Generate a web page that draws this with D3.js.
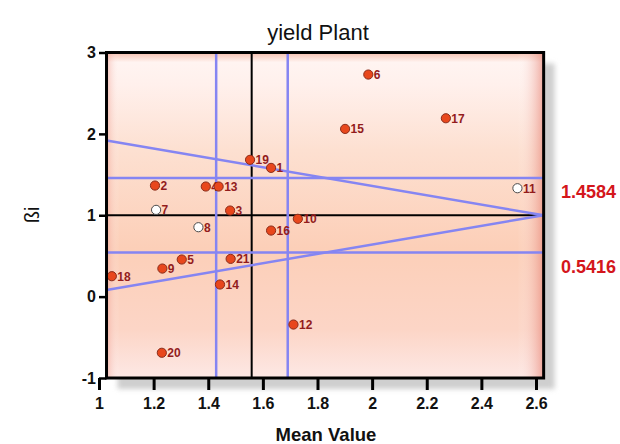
<!DOCTYPE html>
<html>
<head>
<meta charset="utf-8">
<script src="https://cdn.jsdelivr.net/npm/d3@7"></script>
<style>
  body { margin: 0; background: #fff; }
  svg { display: block; font-family: "Liberation Sans", Arial, sans-serif; }
</style>
</head>
<body>
<div id="chart"></div>
<script>
// genotype data
const genotypes = ["1","2","3","4","5","6","7","8","9","10","11","12","13","14","15","16","17","18","19","20","21"];
const meanValues = [1.630, 1.205, 1.480, 1.391, 1.303, 1.986, 1.209, 1.364, 1.232, 1.728, 2.532, 1.712, 1.438, 1.443, 1.901, 1.630, 2.270, 1.047, 1.553, 1.230, 1.482];
const betaValues = [1.582, 1.365, 1.058, 1.353, 0.456, 2.729, 1.066, 0.853, 0.345, 0.956, 1.332, -0.343, 1.353, 0.149, 2.061, 0.812, 2.192, 0.251, 1.681, -0.690, 0.464];
const openPoints = ["7", "8", "11"];

// reference lines
const meanLine = 1.559;
const meanBand = [1.429, 1.691];
const betaBand = [1.4584, 0.5416];
const betaLabels = ["1.4584", "0.5416"];
const slantUpper = [[1.0275, 1.918], [2.628, 1]];
const slantLower = [[1.0275, 0.082], [2.628, 1]];

const xTicks = [1, 1.2, 1.4, 1.6, 1.8, 2, 2.2, 2.4, 2.6];
const yTicks = [-1, 0, 1, 2, 3];
const frameX = [1.0275, 2.628];

const data = genotypes.map((g, i) => ({g, x: meanValues[i], y: betaValues[i], open: openPoints.includes(g)}));

const width = 620, height = 444;

const x = d3.scaleLinear().domain([1, 2.6]).range([99, 536]);
const y = d3.scaleLinear().domain([-1, 3]).range([378, 52.5]);

const svg = d3.select("#chart").append("svg")
  .attr("width", width)
  .attr("height", height);

const defs = svg.append("defs");

// background gradients for the bevelled plot box
const vGrad = defs.append("linearGradient").attr("id", "vgrad")
  .attr("x1", 0).attr("y1", 0).attr("x2", 0).attr("y2", 1);
[["0%", "#f6bfae"], ["3%", "#fff4f1"], ["10%", "#fff0ec"], ["30%", "#fde0d1"], ["60%", "#fccfb8"], ["85%", "#fcd5c6"], ["100%", "#fde8e5"]]
  .forEach(([o, c]) => vGrad.append("stop").attr("offset", o).attr("stop-color", c));

const hGrad = defs.append("linearGradient").attr("id", "hgrad")
  .attr("x1", 0).attr("y1", 0).attr("x2", 1).attr("y2", 0);
[["0%", "#ee9486", 0.5], ["3%", "#ffffff", 0], ["94%", "#ffffff", 0], ["100%", "#e68072", 0.65]]
  .forEach(([o, c, a]) => hGrad.append("stop").attr("offset", o).attr("stop-color", c).attr("stop-opacity", a));

defs.append("filter").attr("id", "blur")
  .append("feGaussianBlur").attr("stdDeviation", 2.5);

defs.append("clipPath").attr("id", "plotclip")
  .append("rect")
  .attr("x", x(frameX[0])).attr("y", y(3))
  .attr("width", x(frameX[1]) - x(frameX[0]))
  .attr("height", y(-1) - y(3));

const fx0 = x(frameX[0]), fx1 = x(frameX[1]), fy0 = y(3), fy1 = y(-1);

// drop shadow
svg.append("rect")
  .attr("x", fx0 + 11).attr("y", fy0 + 11)
  .attr("width", fx1 - fx0).attr("height", fy1 - fy0)
  .attr("fill", "#cfcfcf")
  .attr("filter", "url(#blur)");

svg.append("rect")
  .attr("x", fx0).attr("y", fy0)
  .attr("width", fx1 - fx0).attr("height", fy1 - fy0)
  .attr("fill", "url(#vgrad)");
svg.append("rect")
  .attr("x", fx0).attr("y", fy0)
  .attr("width", fx1 - fx0).attr("height", fy1 - fy0)
  .attr("fill", "url(#hgrad)");

const plot = svg.append("g").attr("clip-path", "url(#plotclip)");

// black reference lines
plot.append("line")
  .attr("x1", fx0).attr("x2", fx1)
  .attr("y1", y(1)).attr("y2", y(1))
  .attr("stroke", "#000").attr("stroke-width", 2);
plot.append("line")
  .attr("x1", x(meanLine)).attr("x2", x(meanLine))
  .attr("y1", fy0).attr("y2", fy1)
  .attr("stroke", "#000").attr("stroke-width", 2);

// blue band lines
const blue = "#8585f2";
plot.selectAll(".vband").data(meanBand).join("line")
  .attr("x1", d => x(d)).attr("x2", d => x(d))
  .attr("y1", fy0).attr("y2", fy1)
  .attr("stroke", blue).attr("stroke-width", 2.5);
plot.selectAll(".hband").data(betaBand).join("line")
  .attr("x1", fx0).attr("x2", fx1 + 2)
  .attr("y1", d => y(d)).attr("y2", d => y(d))
  .attr("stroke", blue).attr("stroke-width", 2.5);
plot.selectAll(".slant").data([slantUpper, slantLower]).join("path")
  .attr("d", d3.line().x(d => x(d[0])).y(d => y(d[1])))
  .attr("fill", "none")
  .attr("stroke", blue).attr("stroke-width", 2.5);

// points + labels, drawn in order so later points cover earlier labels
const pts = svg.append("g");
data.forEach(d => {
  pts.append("circle")
    .attr("cx", x(d.x)).attr("cy", y(d.y)).attr("r", 4.6)
    .attr("fill", d.open ? "#ffffff" : "#e8471c")
    .attr("stroke", d.open ? "#4a4a4a" : "#8a2c1a")
    .attr("stroke-width", 1);
  pts.append("text")
    .attr("x", x(d.x) + 5.5).attr("y", y(d.y) + 4.5)
    .attr("font-size", "12px").attr("font-weight", "bold")
    .attr("fill", "#931c1c")
    .text(d.g);
});

// frame
svg.append("rect")
  .attr("x", fx0).attr("y", fy0)
  .attr("width", fx1 - fx0).attr("height", fy1 - fy0)
  .attr("fill", "none")
  .attr("stroke", "#000").attr("stroke-width", 3);

// axes
svg.append("g")
  .attr("transform", `translate(0,${fy1})`)
  .call(d3.axisBottom(x).tickValues(xTicks).tickSize(12).tickPadding(8).tickFormat(d => String(d)))
  .call(g => g.select(".domain").remove())
  .call(g => g.selectAll("line").attr("stroke-width", 3))
  .call(g => g.selectAll("text").attr("font-size", "16px").attr("font-weight", "bold")
    .attr("font-family", "Liberation Sans, Arial, sans-serif").attr("fill", "#111"));

svg.append("g")
  .attr("transform", `translate(${fx0},0)`)
  .call(d3.axisLeft(y).tickValues(yTicks).tickSize(7.5).tickPadding(3).tickFormat(d => String(d)))
  .call(g => g.select(".domain").remove())
  .call(g => g.selectAll("line").attr("stroke-width", 2.5))
  .call(g => g.selectAll("text").attr("font-size", "16px").attr("font-weight", "bold")
    .attr("font-family", "Liberation Sans, Arial, sans-serif").attr("fill", "#111"));

// band value labels on the right
svg.selectAll(".bandlabel").data(betaBand).join("text")
  .attr("x", 561)
  .attr("y", d => y(d) + 20)
  .attr("font-size", "18px").attr("font-weight", "bold")
  .attr("fill", "#d4161c")
  .text((d, i) => betaLabels[i]);

// titles
svg.append("text")
  .attr("x", 318).attr("y", 40)
  .attr("text-anchor", "middle")
  .attr("font-size", "22px")
  .attr("fill", "#111")
  .text("yield Plant");

svg.append("text")
  .attr("x", 326).attr("y", 441)
  .attr("text-anchor", "middle")
  .attr("font-size", "18.5px").attr("font-weight", "bold")
  .attr("fill", "#111")
  .text("Mean Value");

svg.append("text")
  .attr("transform", "translate(39,215) rotate(-90)")
  .attr("text-anchor", "middle")
  .attr("font-size", "20px")
  .attr("fill", "#111")
  .text("ßi");
</script>
</body>
</html>
